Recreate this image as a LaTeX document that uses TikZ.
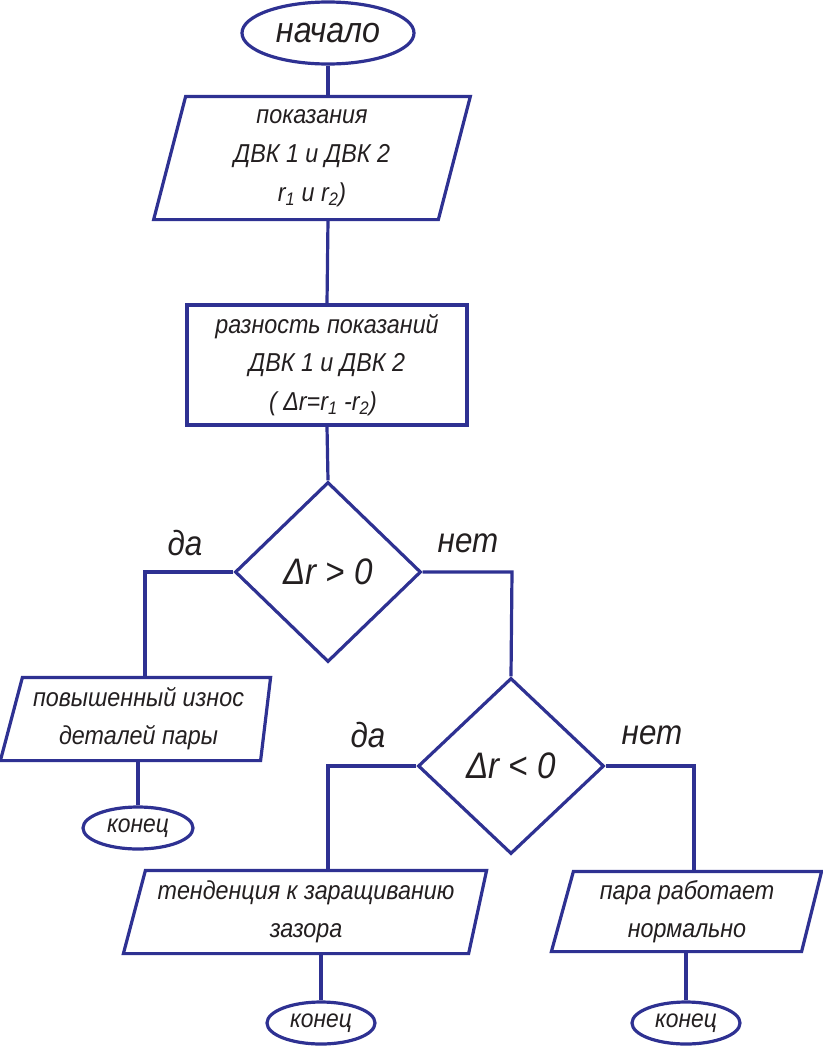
\documentclass[tikz,border=0pt]{standalone}
\usepackage{fontspec}
\setmainfont[FakeStretch=0.9]{Liberation Sans}
\usetikzlibrary{shapes.geometric}
\definecolor{ln}{RGB}{46,49,146}
\definecolor{tx}{RGB}{35,31,32}
\newcommand{\Dl}{Δ}
\begin{document}
\begin{tikzpicture}[x=1bp,y=-1bp,line width=3.2bp,
  every node/.style={text=tx},
  term/.style={draw=ln, ellipse, inner sep=0pt},
  box/.style={draw=ln, rectangle, inner sep=0pt, align=center},
  io/.style={inner sep=0pt, align=center},
  dec/.style={draw=ln, diamond, inner sep=0pt},
  conn/.style={draw=ln},
  big/.style={font=\itshape\fontsize{36}{36}\selectfont},
  lbl/.style={font=\itshape\fontsize{35}{35}\selectfont},
  dtxt/.style={font=\itshape\fontsize{37}{37}\selectfont},
  body/.style={font=\itshape\fontsize{26}{39}\selectfont},
  body2/.style={font=\itshape\fontsize{26}{38}\selectfont},
  small/.style={font=\itshape\fontsize{25.5}{25.5}\selectfont}
]
\useasboundingbox (0,0) rectangle (823,1046);
% nodes
\node[term, big, minimum width=172bp, minimum height=62bp] (start) at (328,33) {начало};
\node[io, body, minimum width=281.5bp, minimum height=120bp] (p1) at (312,158)
  {показания\\ДВК 1 и ДВК 2\\r\textsubscript{1} и r\textsubscript{2})};
\node[box, body, minimum width=280bp, minimum height=120bp] (r1) at (327,365)
  {разность показаний\\ДВК 1 и ДВК 2\\( \Dl r=r\textsubscript{1} -r\textsubscript{2})\hspace*{8bp}};
\node[dec, dtxt, minimum width=186bp, minimum height=180bp] (d1) at (328,572) {\Dl r > 0};
\node[lbl] (da1) at (185,543) {да};
\node[lbl] (net1) at (468,543) {нет};
\node[io, body2, minimum width=251bp, minimum height=80bp] (p2) at (138.5,719)
  {повышенный износ\\деталей пары};
\node[term, small, minimum width=110bp, minimum height=42bp] (e2) at (138,828) {конец};
\node[dec, dtxt, minimum width=186bp, minimum height=176bp] (d2) at (511,766) {\Dl r < 0};
\node[lbl] (da2) at (368,735) {да};
\node[lbl] (net2) at (652,735) {нет};
\node[io, body2, minimum width=340bp, minimum height=80bp] (p3) at (306,912)
  {тенденция к заращиванию\\зазора};
\node[term, small, minimum width=108bp, minimum height=42bp] (e3) at (321,1023) {конец};
\node[io, body2, minimum width=246bp, minimum height=77bp] (p4) at (687,911.5)
  {пара работает\\нормально};
\node[term, small, minimum width=108bp, minimum height=42bp] (e4) at (686,1023) {конец};
% parallelograms
\draw[ln] ([xshift=16bp]p1.north west) -- ([xshift=16bp]p1.north east)
  -- ([xshift=-16bp]p1.south east) -- ([xshift=-16bp]p1.south west) -- cycle;
\draw[ln] ([xshift=11bp]p2.north west) -- ([xshift=5bp]p2.north east)
  -- ([xshift=-5bp]p2.south east) -- ([xshift=-11bp]p2.south west) -- cycle;
\draw[ln] ([xshift=11bp]p3.north west) -- ([xshift=9bp]p3.north east)
  -- ([xshift=-9bp]p3.south east) -- ([xshift=-11bp]p3.south west) -- cycle;
\draw[ln] ([xshift=11bp]p4.north west) -- ([xshift=10bp]p4.north east)
  -- ([xshift=-10bp]p4.south east) -- ([xshift=-11bp]p4.south west) -- cycle;
% turn points
\coordinate (L1) at (145,572);
\coordinate (R1) at (512,572);
\coordinate (L2) at (328,766);
\coordinate (R2) at (694,766);
% connectors
\draw[conn] (start.south) -- (start.south |- p1.north);
\draw[conn] (start.south |- p1.south) -- (r1.north);
\draw[conn] (r1.south) -- (d1.north);
\draw[conn] (d1.west) -- (L1) -- (L1 |- p2.north);
\draw[conn] (d1.east) -- (R1) -- (d2.north);
\draw[conn] (e2.north |- p2.south) -- (e2.north);
\draw[conn] (d2.west) -- (L2) -- (L2 |- p3.north);
\draw[conn] (d2.east) -- (R2) -- (R2 |- p4.north);
\draw[conn] (e3.north |- p3.south) -- (e3.north);
\draw[conn] (e4.north |- p4.south) -- (e4.north);
\end{tikzpicture}
\end{document}
